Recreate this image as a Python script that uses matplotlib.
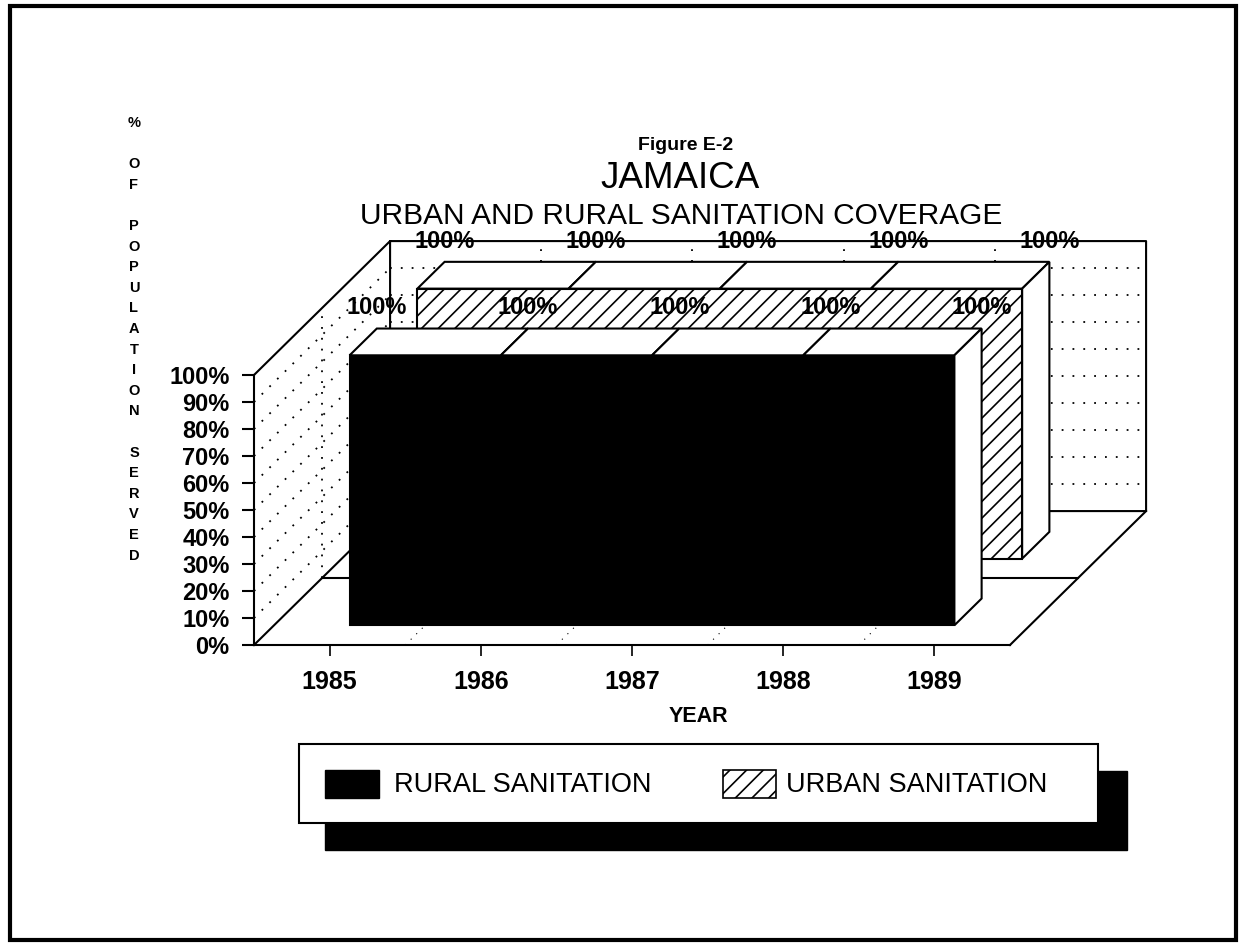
import matplotlib.pyplot as plt
from matplotlib.patches import Polygon, Rectangle
from matplotlib.ticker import PercentFormatter

plt.rcParams['font.family'] = ['Liberation Sans', 'DejaVu Sans']
plt.rcParams['hatch.linewidth'] = 1.2

# Coverage data (% of population served)
years = [1985, 1986, 1987, 1988, 1989]
rural = [100, 100, 100, 100, 100]
urban = [100, 100, 100, 100, 100]
series_names = ['RURAL SANITATION', 'URBAN SANITATION']
y_ticks = list(range(0, 101, 10))
axis_title = '% OF POPULATION SERVED'

W, H = 1239, 944
fig = plt.figure(figsize=(W / 100, H / 100), dpi=100)

# full-figure layer in pixels for frame, titles and legend
bg = fig.add_axes([0, 0, 1, 1])
bg.set_xlim(0, W)
bg.set_ylim(H, 0)
bg.axis('off')
bg.add_patch(Rectangle((10, 6), 1226, 934, fill=False, ec='black', lw=3))

bg.text(686, 146, 'Figure E-2', ha='center', va='center', fontsize=14, fontweight='bold')
bg.text(680, 179, 'JAMAICA', ha='center', va='center', fontsize=26.5)
bg.text(681, 216, 'URBAN AND RURAL SANITATION COVERAGE', ha='center', va='center', fontsize=21.5)

# stacked vertical axis title
stack = []
for word in axis_title.split(' '):
    stack.extend(list(word))
    stack.append('')
bg.text(134, 116, '\n'.join(stack[:-1]), ha='center', va='top', fontsize=10.5,
        fontweight='bold', linespacing=1.6)

# main (front plane) axes
ax = fig.add_axes([254 / W, 1 - 645 / H, 756 / W, 270 / H])
ax.set_xlim(years[0] - 0.5, years[-1] + 0.5)
ax.set_ylim(0, 100)
ax.patch.set_visible(False)
for s in ['top', 'right']:
    ax.spines[s].set_visible(False)
for s in ['left', 'bottom']:
    ax.spines[s].set_linewidth(1.5)

DX, DY = 0.9, 49.6  # shift of the full depth, in years and percent


def P(x, y, f):
    return (x + f * DX, y + f * DY)


def line(pts, **kw):
    xs, ys = zip(*pts)
    ax.plot(xs, ys, clip_on=False, **kw)


x0, x1 = ax.get_xlim()
solid = dict(color='black', lw=1.5, zorder=1)
dots = dict(color='black', lw=1.3, ls=(0, (1, 5)), zorder=1)

# walls and floor
line([P(x0, 100, 0), P(x0, 100, 1), P(x1, 100, 1), P(x1, 0, 1), P(x0, 0, 1), P(x0, 100, 1)], **solid)
line([P(x0, 0, 0), P(x0, 0, 1)], **solid)
line([P(x1, 0, 0), P(x1, 0, 1)], **solid)
line([P(x0, 0, 0.5), P(x1, 0, 0.5)], **solid)
line([P(x0, 0, 0.5), P(x0, 100, 0.5)], **dots)

for t in y_ticks[1:-1]:
    line([P(x0, t, 0), P(x0, t, 1)], **dots)
    line([P(x0, t, 1), P(x1, t, 1)], **dots)
for yr in years[:-1]:
    b = yr + 0.5
    line([P(b, 0, 1), P(b, 100, 1)], **dots)
    line([P(b, 0, 0), P(b, 0, 1)], color='black', lw=0.8, ls=(0, (1, 6)), zorder=1)


def ribbon(vals, fa, fb, face, hatch, z):
    front = [P(years[0], 0, fa)] + [P(x, v, fa) for x, v in zip(years, vals)] + [P(years[-1], 0, fa)]
    ax.add_patch(Polygon(front, closed=True, fc=face, ec='black', hatch=hatch,
                         lw=1.5, clip_on=False, zorder=z))
    for i in range(len(years) - 1):
        top = [P(years[i], vals[i], fa), P(years[i + 1], vals[i + 1], fa),
               P(years[i + 1], vals[i + 1], fb), P(years[i], vals[i], fb)]
        ax.add_patch(Polygon(top, closed=True, fc='white', ec='black', lw=1.5,
                             clip_on=False, zorder=z))
    side = [P(years[-1], 0, fa), P(years[-1], vals[-1], fa),
            P(years[-1], vals[-1], fb), P(years[-1], 0, fb)]
    ax.add_patch(Polygon(side, closed=True, fc='white', ec='black', lw=1.5,
                         clip_on=False, zorder=z))
    for x, v in zip(years, vals):
        ax.annotate(f'{v}%', P(x, v, fb), xytext=(0, 15), textcoords='offset points',
                    ha='center', va='center', fontsize=17, fontweight='bold',
                    annotation_clip=False, zorder=6)


ribbon(urban, 0.645, 0.845, 'white', '//', 3)
ribbon(rural, 0.147, 0.347, 'black', None, 4)

ax.set_yticks(y_ticks)
ax.yaxis.set_major_formatter(PercentFormatter(xmax=100, decimals=0))
ax.set_xticks(years)
ax.tick_params(axis='y', direction='out', length=9, width=1.5, pad=8.5, labelsize=17)
ax.tick_params(axis='x', direction='out', length=8, width=1.2, pad=10, labelsize=18)
for lbl in ax.get_xticklabels() + ax.get_yticklabels():
    lbl.set_fontweight('bold')

bg.text(698, 716, 'YEAR', ha='center', va='center', fontsize=15.5, fontweight='bold')

# legend with drop shadow
bg.add_patch(Rectangle((325, 771), 802, 79, fc='black', ec='black', zorder=1))
bg.add_patch(Rectangle((299, 744), 799, 79, fc='white', ec='black', lw=1.5, zorder=2))
bg.add_patch(Rectangle((325, 770), 54, 28, fc='black', ec='black', zorder=3))
bg.add_patch(Rectangle((723, 770), 53, 28, fc='white', ec='black', hatch='//', lw=1.2, zorder=3))
bg.text(394, 785, series_names[0], ha='left', va='center', fontsize=19.5, zorder=4)
bg.text(786, 785, series_names[1], ha='left', va='center', fontsize=19.5, zorder=4)

fig.savefig('out.png', dpi=100)
